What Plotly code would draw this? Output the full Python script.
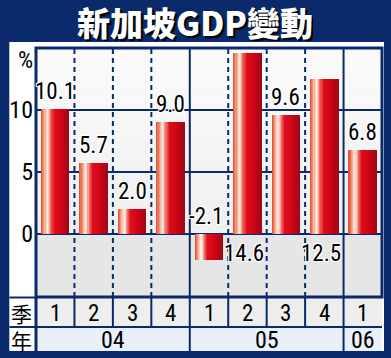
import plotly.graph_objects as go

# ---------------- data ----------------
quarter_labels = ["1", "2", "3", "4", "1", "2", "3", "4", "1"]
year_labels = ["04", "05", "06"]
year_spans = [4, 4, 1]
gdp_growth = [10.1, 5.7, 2.0, 9.0, -2.1, 14.6, 9.6, 12.5, 6.8]
value_text = ["10.1", "5.7", "2.0", "9.0", "-2.1", "14.6", "9.6", "12.5", "6.8"]
ytick_vals = [0, 5, 10]
title_text = "新加坡GDP變動"
unit_text = "%"
row_quarter = "季"
row_year = "年"

# ---------------- style / geometry ----------------
NAVY = "#0b2a6b"
W, H = 391, 358
L, R, T, B = 32, 382, 48, 297       # plot area in px
Y0PX, PXU = 234, 12.4               # zero line px, px per unit
YMAX = (Y0PX - T) / PXU
YMIN = -(B - Y0PX) / PXU
NUM_FONT = "Liberation Sans Narrow, Arial Narrow, Roboto Condensed, Liberation Sans, Arial, sans-serif"
CJK_FONT = "Noto Sans CJK TC, Noto Sans CJK SC, sans-serif"


def px_x(p):
    return (p - L) / (R - L)


def px_y(p):
    return (B - p) / (B - T)


n = len(gdp_growth)
xs = list(range(n))

fig = go.Figure()

# gradient bars built from stripes
stops = [(0.0, (222, 70, 45)), (0.12, (243, 160, 128)), (0.24, (255, 246, 240)),
         (0.35, (240, 112, 98)), (0.48, (222, 14, 28)), (0.72, (210, 4, 20)),
         (1.0, (158, 8, 24))]


def grad(t):
    for (t0, c0), (t1, c1) in zip(stops[:-1], stops[1:]):
        if t0 <= t <= t1:
            f = (t - t0) / (t1 - t0)
            c = [round(a + (b - a) * f) for a, b in zip(c0, c1)]
            return "rgb(%d,%d,%d)" % tuple(c)
    return "rgb(%d,%d,%d)" % stops[-1][1]


NS = 24
BW = 0.72
sw = BW / NS
for k in range(NS):
    fig.add_trace(go.Bar(
        x=xs, y=gdp_growth,
        width=sw * (1.4 if k < NS - 1 else 1.0),
        offset=-BW / 2 + k * sw,
        marker=dict(color=grad((k + 0.5) / NS), line=dict(width=0)),
        hoverinfo="skip", showlegend=False,
    ))

shapes = []
# white panel
shapes.append(dict(type="rect", xref="paper", yref="paper", x0=px_x(5), x1=px_x(384),
                   y0=px_y(351), y1=px_y(42), fillcolor="white", line=dict(width=0), layer="below"))
# positive background gradient
NB = 10
for i in range(NB):
    g = round(250 - 10 * (1 - i / (NB - 1)))
    shapes.append(dict(type="rect", xref="x", yref="y", x0=-0.5, x1=n - 0.5,
                       y0=YMAX * i / NB, y1=YMAX * (i + 1) / NB,
                       fillcolor="rgb(%d,%d,%d)" % (g, g, g), line=dict(width=0), layer="below"))
# negative background
shapes.append(dict(type="rect", xref="x", yref="y", x0=-0.5, x1=n - 0.5, y0=YMIN, y1=0,
                   fillcolor="#e6e6e6", line=dict(width=0), layer="below"))
# horizontal grid lines
for v in ytick_vals:
    shapes.append(dict(type="line", xref="x", yref="y", x0=-0.5, x1=n - 0.5, y0=v, y1=v,
                       line=dict(color=NAVY, width=2), layer="below"))
# vertical separators
bounds = []
acc = 0
for s in year_spans[:-1]:
    acc += s
    bounds.append(acc - 0.5)
for i in range(n - 1):
    xb = i + 0.5
    solid = xb in bounds
    shapes.append(dict(type="line", xref="x", yref="y", x0=xb, x1=xb, y0=YMIN, y1=YMAX,
                       line=dict(color=NAVY, width=2, dash="5px,4px" if not solid else "solid"),
                       layer="below"))
# table rows
shapes.append(dict(type="rect", xref="paper", yref="paper", x0=0, x1=1,
                   y0=px_y(327), y1=px_y(297), fillcolor="#eeeeee", line=dict(width=0), layer="below"))
shapes.append(dict(type="rect", xref="paper", yref="paper", x0=0, x1=1,
                   y0=px_y(351), y1=px_y(327), fillcolor="#e9f0fa", line=dict(width=0), layer="below"))
for i in range(n - 1):
    xb = i + 0.5
    shapes.append(dict(type="line", xref="x", yref="paper", x0=xb, x1=xb, y0=px_y(327), y1=px_y(297),
                       line=dict(color=NAVY, width=2)))
for xb in bounds:
    shapes.append(dict(type="line", xref="x", yref="paper", x0=xb, x1=xb, y0=px_y(351), y1=px_y(327),
                       line=dict(color=NAVY, width=2)))
shapes.append(dict(type="line", xref="paper", yref="paper", x0=px_x(5), x1=1, y0=px_y(327), y1=px_y(327),
                   line=dict(color=NAVY, width=2)))
shapes.append(dict(type="line", xref="paper", yref="paper", x0=px_x(5), x1=0, y0=px_y(297.5), y1=px_y(297.5),
                   line=dict(color=NAVY, width=2)))
shapes.append(dict(type="line", xref="paper", yref="paper", x0=0, x1=0, y0=px_y(351), y1=px_y(297),
                   line=dict(color=NAVY, width=3)))
# plot border
shapes.append(dict(type="rect", xref="paper", yref="paper", x0=0, x1=1, y0=0, y1=1,
                   line=dict(color=NAVY, width=3), layer="above"))

halo = "-1px -1px 0 #fff, 1px -1px 0 #fff, -1px 1px 0 #fff, 1px 1px 0 #fff, 0 0 2px #fff"
ann = []
ann.append(dict(text=title_text, xref="paper", yref="paper", x=px_x(193), y=px_y(22),
                xanchor="center", yanchor="middle", showarrow=False, height=38,
                font=dict(family=CJK_FONT, size=33, color="white", weight=900,
                          shadow="2px 2px 1px #000")))
ann.append(dict(text=unit_text, xref="paper", yref="paper", x=px_x(31), y=px_y(60),
                xanchor="right", yanchor="middle", showarrow=False,
                font=dict(family=NUM_FONT, size=24, color="black")))
ann.append(dict(text=row_quarter, xref="paper", yref="paper", x=px_x(17), y=px_y(313),
                xanchor="center", yanchor="middle", showarrow=False, height=24,
                font=dict(family=CJK_FONT, size=21, color="black")))
ann.append(dict(text=row_year, xref="paper", yref="paper", x=px_x(17), y=px_y(340),
                xanchor="center", yanchor="middle", showarrow=False, height=24,
                font=dict(family=CJK_FONT, size=21, color="black")))
for i, q in enumerate(quarter_labels):
    ann.append(dict(text=q, xref="x", yref="paper", x=i, y=px_y(313), xanchor="center",
                    yanchor="middle", showarrow=False,
                    font=dict(family=NUM_FONT, size=23, color="black")))
start = 0
for yl, s in zip(year_labels, year_spans):
    ann.append(dict(text=yl, xref="x", yref="paper", x=start + (s - 1) / 2, y=px_y(340),
                    xanchor="center", yanchor="middle", showarrow=False,
                    font=dict(family=NUM_FONT, size=24, color="black")))
    start += s
for i, (v, t) in enumerate(zip(gdp_growth, value_text)):
    if v < 0:
        yv, ya, ysh, xsh = 0, "bottom", 2, -3
    elif v > 12:
        yv, ya, ysh, xsh = 0, "top", -4, -3
    else:
        yv, ya, ysh, xsh = v, "bottom", 2, 0
    ann.append(dict(text=t, xref="x", yref="y", x=i, y=yv, xanchor="center", yanchor=ya,
                    yshift=ysh, xshift=xsh, showarrow=False,
                    font=dict(family=NUM_FONT, size=23, color="black", shadow=halo)))

fig.update_layout(
    width=W, height=H,
    margin=dict(l=L, r=W - R, t=T, b=H - B, pad=0),
    paper_bgcolor=NAVY, plot_bgcolor="rgba(0,0,0,0)",
    barmode="overlay", bargap=0,
    shapes=shapes, annotations=ann,
    showlegend=False,
    xaxis=dict(range=[-0.5, n - 0.5], showticklabels=False, showgrid=False, zeroline=False,
               showline=False, fixedrange=True),
    yaxis=dict(range=[YMIN, YMAX], tickvals=ytick_vals, showgrid=False, zeroline=False,
               showline=False, ticks="", ticklabelstandoff=2,
               tickfont=dict(family=NUM_FONT, size=24, color="black"), fixedrange=True),
)

fig.write_html("out.html", config={"displayModeBar": False},
               post_script="document.body.style.margin='0';document.body.style.padding='0';"
                           "document.body.style.overflow='hidden';")
